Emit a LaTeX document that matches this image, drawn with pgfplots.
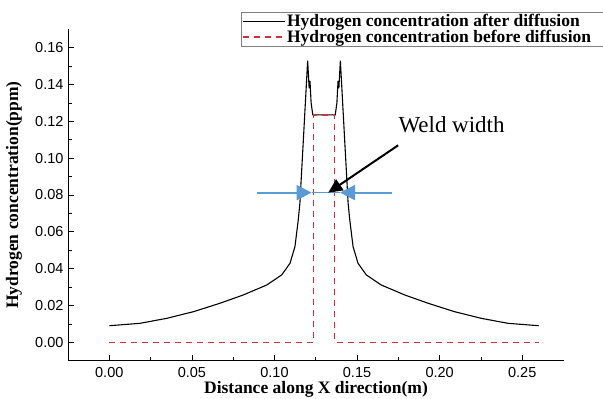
\documentclass[border=0pt]{standalone}
\usepackage{fontspec}
\setmainfont{Liberation Serif}
\setsansfont{Liberation Sans}
\usepackage{pgfplots}
\pgfplotsset{compat=1.18}
\usetikzlibrary{arrows.meta}
\definecolor{reddash}{RGB}{205,50,60}
\definecolor{bluearr}{RGB}{91,155,213}
\begin{document}
\begin{tikzpicture}
\begin{axis}[
  at={(0pt,0pt)}, anchor=south west,
  scale only axis, width=495pt, height=331.4pt,
  xmin=-0.0247, xmax=0.275, ymin=-0.01, ymax=0.17,
  axis x line=bottom, axis y line=left,
  axis line style={-, line width=0.8pt},
  xtick={0,0.05,0.10,0.15,0.20,0.25},
  ytick={0,0.02,0.04,0.06,0.08,0.10,0.12,0.14,0.16},
  minor x tick num=1, minor y tick num=1,
  tick align=inside,
  major tick length=6pt, minor tick length=3.5pt,
  tick style={black, line width=0.7pt},
  /pgf/number format/assume math mode=true,
  /pgf/number format/.cd, fixed, fixed zerofill, precision=2, /pgfplots/.cd,
  scaled ticks=false,
  tick label style={font=\sffamily\fontsize{14.5}{15}\selectfont},
  xticklabel style={yshift=-3pt},
  yticklabel style={xshift=-1.5pt},
  xlabel={Distance along X direction(m)},
  ylabel={Hydrogen concentration(ppm)},
  every axis x label/.style={at={(axis description cs:0.5,-0.1)}, anchor=base,
    font=\bfseries\fontsize{17.5}{20}\selectfont},
  every axis y label/.style={at={(axis description cs:-0.110,0.5)}, rotate=90, anchor=center,
    font=\bfseries\fontsize{17.5}{20}\selectfont},
  legend style={at={(axis description cs:0.3485,1.0522)}, anchor=north west,
    draw=gray, line width=0.6pt, inner xsep=1pt, inner ysep=0.5pt,
    font=\bfseries\fontsize{17.5}{19}\selectfont,
    nodes={inner sep=1.5pt}, row sep=-1pt},
  legend cell align=left,
  legend image code/.code={\draw[#1] (0pt,0pt) -- (42pt,0pt);},
  clip=false,
]
\addplot[black, line width=1.1pt] coordinates {
(0,0.009) (0.0186,0.0103) (0.0347,0.0130) (0.0509,0.0166) (0.0670,0.0212)
(0.0811,0.0257) (0.0953,0.0311) (0.1044,0.0366) (0.1094,0.0429) (0.1124,0.0519)
(0.1144,0.0664) (0.1154,0.0755) (0.1175,0.110) (0.1201,0.153) (0.1210,0.138)
(0.1215,0.142) (0.1222,0.130) (0.1232,0.1235) (0.1368,0.1235) (0.1378,0.130)
(0.1385,0.142) (0.1390,0.138) (0.1399,0.153) (0.1425,0.110) (0.1446,0.0755)
(0.1456,0.0664) (0.1476,0.0519) (0.1506,0.0429) (0.1556,0.0366) (0.1647,0.0311)
(0.1789,0.0257) (0.1930,0.0212) (0.2091,0.0166) (0.2253,0.0130) (0.2414,0.0103)
(0.26,0.009)
};
\addlegendentry{Hydrogen concentration after diffusion\hspace*{30pt}}
\addplot[reddash, line width=1.2pt, dash pattern=on 6pt off 5pt] coordinates {
(0,0) (0.1237,0) (0.1237,0.1235) (0.1365,0.1235) (0.1365,0) (0.26,0)
};
\addlegendentry{Hydrogen concentration before diffusion}
\draw[bluearr, line width=0.8pt] (axis cs:0.1225,0.0813) -- (axis cs:0.1397,0.0813);
\draw[bluearr, line width=2pt, -{Triangle[length=15pt,width=15pt]}] (axis cs:0.0892,0.0813) -- (axis cs:0.1225,0.0813);
\draw[bluearr, line width=2pt, -{Triangle[length=15pt,width=15pt]}] (axis cs:0.1711,0.0813) -- (axis cs:0.1397,0.0813);
\draw[black, line width=2pt, -{Triangle[length=14pt,width=13pt]}] (axis cs:0.1749,0.107) -- (axis cs:0.1326,0.0813);
\node[anchor=base west, inner sep=0pt, font=\fontsize{23}{25}\selectfont] at (axis cs:0.175,0.1137) {Weld width};
\end{axis}
\pgfresetboundingbox
\useasboundingbox (-68.5pt,-38.3pt) rectangle (534.5pt,360.7pt);
\end{tikzpicture}
\end{document}
